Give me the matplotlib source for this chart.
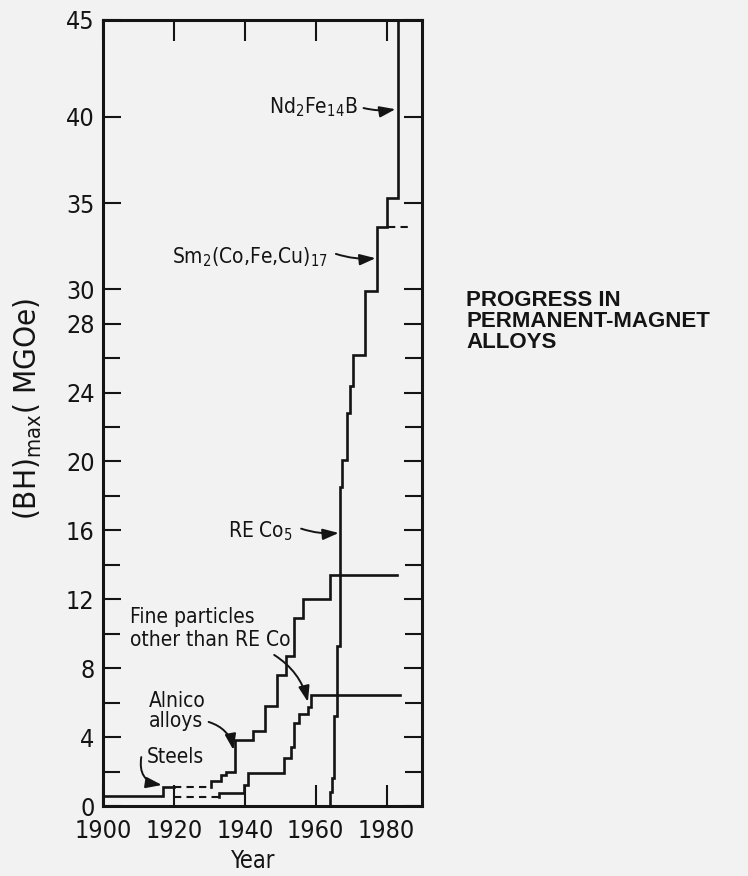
import numpy as np
import matplotlib
matplotlib.use("Agg")
import matplotlib.pyplot as plt

plt.rcParams["font.family"] = ["DejaVu Sans"]
plt.rcParams["font.stretch"] = "condensed"
plt.rcParams["mathtext.fontset"] = "dejavusans"

INK = "#141414"
PAPER = "#f2f2f2"

# ---- step records, (BH)max in MGOe; each level holds up to the next year ----
steels_years = [1900, 1917, 1920]
steels_bh = [0.6, 0.6, 1.1]
steels_gap_years = [1920, 1930.6]
steels_gap_bh = [1.1, 1.1]

alnico_years = [1930.6, 1933.3, 1934.8, 1937.2, 1942.4, 1945.6, 1949.1,
                1951.7, 1953.8, 1956.3, 1964.1, 1983.0]
alnico_bh = [1.1, 1.45, 1.8, 2.0, 3.85, 4.33, 5.83, 7.62, 8.68, 10.91,
             12.02, 13.39]

fine_gap_years = [1920, 1932.6]
fine_gap_bh = [0.5, 0.5]
fine_years = [1932.6, 1939.7, 1941.0, 1951.0, 1953.1, 1954.0, 1955.4,
              1957.7, 1958.7, 1983.9]
fine_bh = [0.5, 0.75, 1.2, 1.9, 2.77, 3.4, 4.8, 5.35, 5.77, 6.45]

reco_years = [1964.1, 1964.7, 1965.2, 1965.9, 1966.8, 1967.5, 1968.8,
              1969.8, 1970.6, 1973.8, 1977.2, 1980.0, 1983.3, 1983.3]
reco_bh = [0.0, 0.83, 1.6, 5.2, 9.26, 18.5, 20.1, 22.8, 24.4, 26.2, 29.9,
           33.6, 35.3, 45.0]

smco_gap_years = [1980.5, 1987.5]
smco_gap_bh = [33.6, 33.6]

year_ticks = [1900, 1920, 1940, 1960, 1980]
bh_major = [0, 4, 8, 12, 16, 20, 24, 28, 30, 35, 40, 45]
bh_minor = [2, 6, 10, 14, 18, 22, 26]

# axis is stretched slightly above 40 MGOe
STRETCH = 1.126


def fwd(v):
    v = np.asarray(v, dtype=float)
    return np.where(v <= 40, v, 40 + (v - 40) * STRETCH)


def inv(u):
    u = np.asarray(u, dtype=float)
    return np.where(u <= 40, u, 40 + (u - 40) / STRETCH)


fig = plt.figure(figsize=(7.48, 8.76), dpi=100, facecolor=PAPER)
ax = fig.add_axes([0.1377, 0.0799, 0.4265, 0.8973], facecolor=PAPER)
ax.set_yscale("function", functions=(fwd, inv))

solid = dict(color=INK, lw=1.9, drawstyle="steps-pre", solid_joinstyle="miter")
dashed = dict(color=INK, lw=1.5, linestyle=(0, (3.5, 2.5)))

ax.plot(steels_years, steels_bh, **solid)
ax.plot(steels_gap_years, steels_gap_bh, **dashed)
ax.plot(alnico_years, alnico_bh, **solid)
ax.plot(fine_gap_years, fine_gap_bh, **dashed)
ax.plot(fine_years, fine_bh, **solid)
ax.plot(reco_years, reco_bh, **solid)
ax.plot(smco_gap_years, smco_gap_bh, **dashed)

ax.set_xlim(1900.7, 1990)
ax.set_ylim(0, 45)

ax.set_xticks(year_ticks)
ax.set_xticklabels([str(y) for y in year_ticks])
ax.set_yticks(bh_major)
ax.set_yticklabels([str(v) for v in bh_major])
ax.set_yticks(bh_minor, minor=True)
ax.xaxis.set_minor_locator(matplotlib.ticker.NullLocator())

ax.tick_params(axis="both", which="both", direction="in", top=True,
               right=True, color=INK, width=1.5, labelsize=18,
               labelcolor=INK)
ax.tick_params(axis="x", which="major", length=15, pad=9)
ax.tick_params(axis="y", which="major", length=13, pad=6)
ax.tick_params(axis="y", which="minor", length=12)
for s in ax.spines.values():
    s.set_linewidth(2.2)
    s.set_color(INK)

ax.set_xlabel("Year", fontsize=17, color=INK)
ax.xaxis.set_label_coords(0.47, -0.055)
ax.set_ylabel(r"(BH)$_{\mathrm{max}}$( MGOe)", fontsize=22.5, color=INK)
ax.yaxis.set_label_coords(-0.185, 0.505)

lab = dict(fontsize=15, color=INK)
ax.text(1971.8, 40.2, r"Nd$_2$Fe$_{14}$B", ha="right", va="baseline", **lab)
ax.text(1963.4, 31.5, r"Sm$_2$(Co,Fe,Cu)$_{17}$", ha="right", va="baseline", **lab)
ax.text(1953.6, 15.6, r"RE Co$_5$", ha="right", va="baseline", **lab)
ax.text(1907.7, 10.3, "Fine particles\nother than RE Co", ha="left",
        va="center", linespacing=1.15, **lab)
ax.text(1913.0, 5.5, "Alnico\nalloys", ha="left", va="center",
        linespacing=1.0, **lab)
ax.text(1912.4, 2.5, "Steels", ha="left", va="baseline", **lab)


def pointer(tail, tip, rad):
    ax.annotate("", xy=tip, xytext=tail, xycoords="data", textcoords="data",
                arrowprops=dict(arrowstyle="-|>,head_length=0.8,head_width=0.28",
                                connectionstyle=f"arc3,rad={rad}",
                                color=INK, lw=1.4, shrinkA=0, shrinkB=0,
                                mutation_scale=12))


pointer((1973.5, 40.46), (1982.5, 40.4), 0.1)
pointer((1965.7, 32.05), (1976.9, 31.8), 0.1)
pointer((1955.9, 16.1), (1966.5, 15.85), 0.1)
pointer((1948.3, 8.77), (1957.8, 6.04), -0.2)
pointer((1929.8, 4.88), (1936.8, 3.25), -0.3)
pointer((1910.8, 2.84), (1916.6, 1.22), 0.5)

fig.text(0.623, 0.669, "PROGRESS IN\nPERMANENT-MAGNET\nALLOYS",
         ha="left", va="top", fontsize=16, fontweight="bold",
         family=["Liberation Sans", "DejaVu Sans"], fontstretch="normal",
         color=INK, linespacing=1.0)

fig.savefig("out.png", dpi=100, facecolor=PAPER)
